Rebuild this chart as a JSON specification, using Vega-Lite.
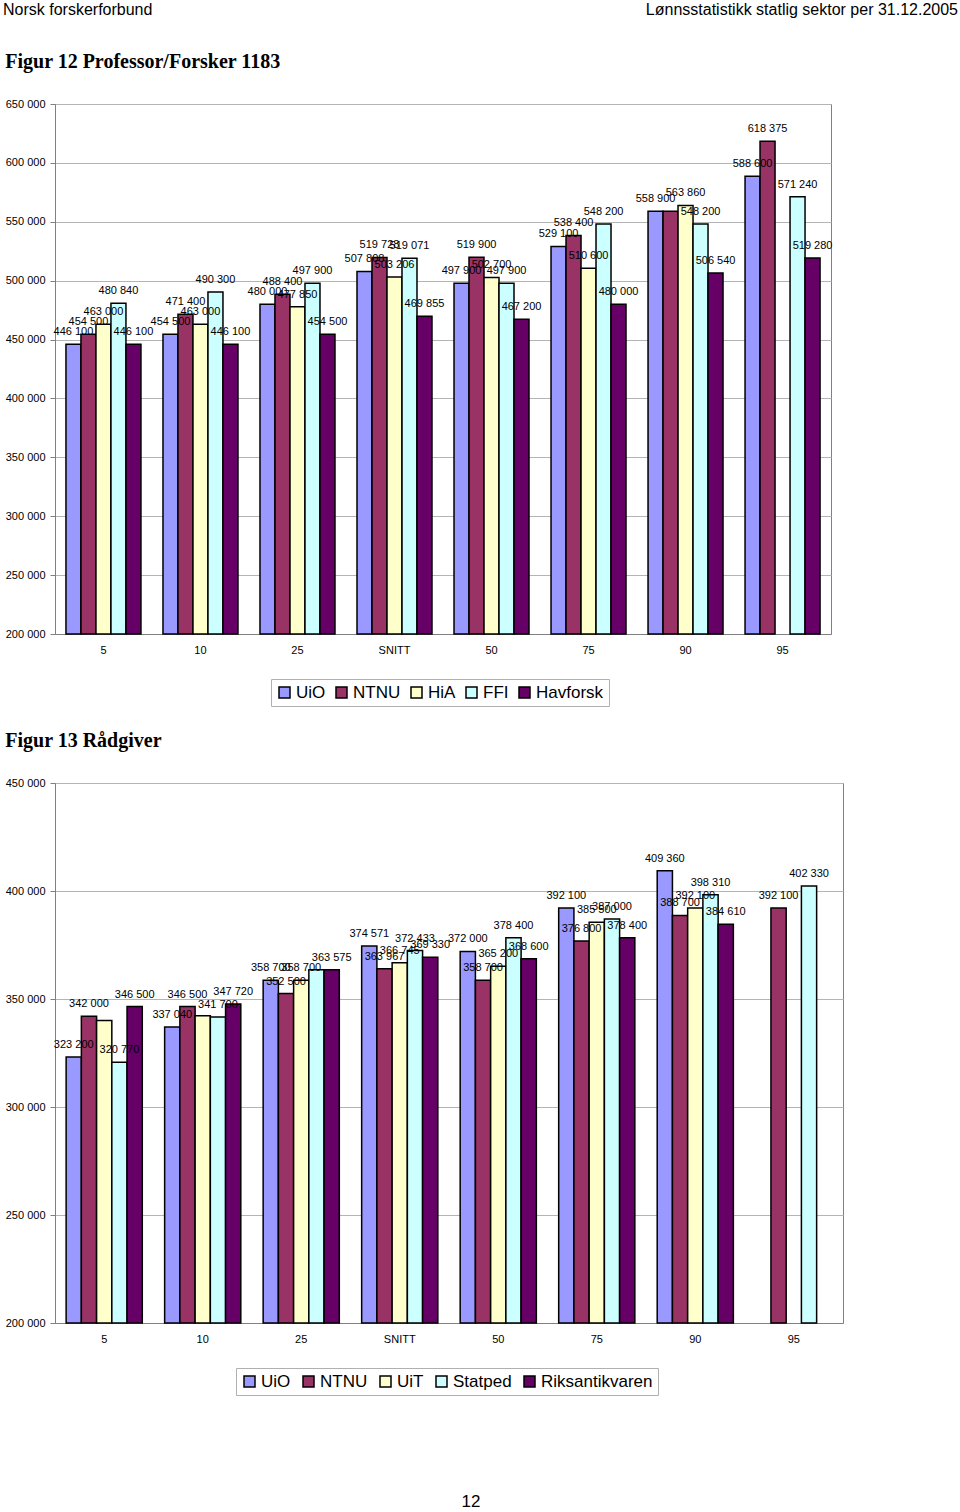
{
  "$schema": "https://vega.github.io/schema/vega-lite/v6.json",
  "background": "white",
  "padding": {"left": 3, "top": 0, "right": 2, "bottom": 0},
  "spacing": 23,
  "resolve": {"scale": {"color": "independent", "xOffset": "independent", "x": "independent", "y": "independent"}, "legend": {"color": "independent"}},
  "datasets": {
    "fig12": [
      {"g": "5", "s": "UiO", "v": 446100, "lab": "446 100"},
      {"g": "5", "s": "NTNU", "v": 454500, "lab": "454 500"},
      {"g": "5", "s": "HiA", "v": 463000, "lab": "463 000"},
      {"g": "5", "s": "FFI", "v": 480840, "lab": "480 840"},
      {"g": "5", "s": "Havforsk", "v": 446100, "lab": "446 100"},
      {"g": "10", "s": "UiO", "v": 454500, "lab": "454 500"},
      {"g": "10", "s": "NTNU", "v": 471400, "lab": "471 400"},
      {"g": "10", "s": "HiA", "v": 463000, "lab": "463 000"},
      {"g": "10", "s": "FFI", "v": 490300, "lab": "490 300"},
      {"g": "10", "s": "Havforsk", "v": 446100, "lab": "446 100"},
      {"g": "25", "s": "UiO", "v": 480000, "lab": "480 000"},
      {"g": "25", "s": "NTNU", "v": 488400, "lab": "488 400"},
      {"g": "25", "s": "HiA", "v": 477850, "lab": "477 850"},
      {"g": "25", "s": "FFI", "v": 497900, "lab": "497 900"},
      {"g": "25", "s": "Havforsk", "v": 454500, "lab": "454 500"},
      {"g": "SNITT", "s": "UiO", "v": 507808, "lab": "507 808"},
      {"g": "SNITT", "s": "NTNU", "v": 519728, "lab": "519 728"},
      {"g": "SNITT", "s": "HiA", "v": 503206, "lab": "503 206"},
      {"g": "SNITT", "s": "FFI", "v": 519071, "lab": "519 071"},
      {"g": "SNITT", "s": "Havforsk", "v": 469855, "lab": "469 855"},
      {"g": "50", "s": "UiO", "v": 497900, "lab": "497 900"},
      {"g": "50", "s": "NTNU", "v": 519900, "lab": "519 900"},
      {"g": "50", "s": "HiA", "v": 502700, "lab": "502 700"},
      {"g": "50", "s": "FFI", "v": 497900, "lab": "497 900"},
      {"g": "50", "s": "Havforsk", "v": 467200, "lab": "467 200"},
      {"g": "75", "s": "UiO", "v": 529100, "lab": "529 100"},
      {"g": "75", "s": "NTNU", "v": 538400, "lab": "538 400"},
      {"g": "75", "s": "HiA", "v": 510600, "lab": "510 600"},
      {"g": "75", "s": "FFI", "v": 548200, "lab": "548 200"},
      {"g": "75", "s": "Havforsk", "v": 480000, "lab": "480 000"},
      {"g": "90", "s": "UiO", "v": 558900, "lab": "558 900"},
      {"g": "90", "s": "NTNU", "v": 558900, "lab": null},
      {"g": "90", "s": "HiA", "v": 563860, "lab": "563 860"},
      {"g": "90", "s": "FFI", "v": 548200, "lab": "548 200"},
      {"g": "90", "s": "Havforsk", "v": 506540, "lab": "506 540"},
      {"g": "95", "s": "UiO", "v": 588600, "lab": "588 600"},
      {"g": "95", "s": "NTNU", "v": 618375, "lab": "618 375"},
      {"g": "95", "s": "FFI", "v": 571240, "lab": "571 240"},
      {"g": "95", "s": "Havforsk", "v": 519280, "lab": "519 280"}
    ],
    "fig13": [
      {"g": "5", "s": "UiO", "v": 323200, "lab": "323 200"},
      {"g": "5", "s": "NTNU", "v": 342000, "lab": "342 000"},
      {"g": "5", "s": "UiT", "v": 340000, "lab": null},
      {"g": "5", "s": "Statped", "v": 320770, "lab": "320 770"},
      {"g": "5", "s": "Riksantikvaren", "v": 346500, "lab": "346 500"},
      {"g": "10", "s": "UiO", "v": 337040, "lab": "337 040"},
      {"g": "10", "s": "NTNU", "v": 346500, "lab": "346 500"},
      {"g": "10", "s": "UiT", "v": 342300, "lab": null},
      {"g": "10", "s": "Statped", "v": 341700, "lab": "341 700"},
      {"g": "10", "s": "Riksantikvaren", "v": 347720, "lab": "347 720"},
      {"g": "25", "s": "UiO", "v": 358700, "lab": "358 700"},
      {"g": "25", "s": "NTNU", "v": 352500, "lab": "352 500"},
      {"g": "25", "s": "UiT", "v": 358700, "lab": "358 700"},
      {"g": "25", "s": "Statped", "v": 363575, "lab": null},
      {"g": "25", "s": "Riksantikvaren", "v": 363575, "lab": "363 575"},
      {"g": "SNITT", "s": "UiO", "v": 374571, "lab": "374 571"},
      {"g": "SNITT", "s": "NTNU", "v": 363967, "lab": "363 967"},
      {"g": "SNITT", "s": "UiT", "v": 366745, "lab": "366 745"},
      {"g": "SNITT", "s": "Statped", "v": 372433, "lab": "372 433"},
      {"g": "SNITT", "s": "Riksantikvaren", "v": 369330, "lab": "369 330"},
      {"g": "50", "s": "UiO", "v": 372000, "lab": "372 000"},
      {"g": "50", "s": "NTNU", "v": 358700, "lab": "358 700"},
      {"g": "50", "s": "UiT", "v": 365200, "lab": "365 200"},
      {"g": "50", "s": "Statped", "v": 378400, "lab": "378 400"},
      {"g": "50", "s": "Riksantikvaren", "v": 368600, "lab": "368 600"},
      {"g": "75", "s": "UiO", "v": 392100, "lab": "392 100"},
      {"g": "75", "s": "NTNU", "v": 376800, "lab": "376 800"},
      {"g": "75", "s": "UiT", "v": 385500, "lab": "385 500"},
      {"g": "75", "s": "Statped", "v": 387000, "lab": "387 000"},
      {"g": "75", "s": "Riksantikvaren", "v": 378400, "lab": "378 400"},
      {"g": "90", "s": "UiO", "v": 409360, "lab": "409 360"},
      {"g": "90", "s": "NTNU", "v": 388700, "lab": "388 700"},
      {"g": "90", "s": "UiT", "v": 392100, "lab": "392 100"},
      {"g": "90", "s": "Statped", "v": 398310, "lab": "398 310"},
      {"g": "90", "s": "Riksantikvaren", "v": 384610, "lab": "384 610"},
      {"g": "95", "s": "NTNU", "v": 392100, "lab": "392 100"},
      {"g": "95", "s": "Statped", "v": 402330, "lab": "402 330"}
    ]
  },
  "vconcat": [
    {
      "spacing": 31,
      "resolve": {"scale": {"color": "independent", "xOffset": "independent", "x": "independent", "y": "independent"}, "legend": {"color": "independent"}},
      "vconcat": [
        {
          "width": 903,
          "height": 20,
          "view": {"stroke": null},
          "data": {"values": [
            {"t": "Norsk forskerforbund", "side": "l"},
            {"t": "Lønnsstatistikk statlig sektor per 31.12.2005", "side": "r"}
          ]},
          "encoding": {
            "x": {"field": "side", "type": "nominal", "scale": {"type": "point", "domain": ["l", "r"], "range": [-52, 903], "padding": 0}, "axis": null},
            "text": {"field": "t", "type": "nominal"}
          },
          "layer": [
            {"transform": [{"filter": "datum.side === 'l'"}], "mark": {"type": "text", "align": "left", "baseline": "middle", "font": "Liberation Sans", "fontSize": 16, "color": "black"}},
            {"transform": [{"filter": "datum.side === 'r'"}], "mark": {"type": "text", "align": "right", "baseline": "middle", "font": "Liberation Sans", "fontSize": 16, "color": "black"}}
          ]
        },
        {
          "width": 776,
          "height": 530,
          "title": {"text": "Figur 12 Professor/Forsker 1183", "anchor": "start", "frame": "bounds", "font": "Liberation Serif", "fontSize": 20, "fontWeight": "bold", "offset": 26, "color": "black"},
          "data": {"name": "fig12"},
          "encoding": {
            "x": {"field": "g", "type": "nominal", "sort": ["5", "10", "25", "SNITT", "50", "75", "90", "95"], "scale": {"paddingInner": 0.227, "paddingOuter": 0.113}, "title": null,
              "axis": {"labelAngle": 0, "ticks": false, "labelPadding": 10, "labelFontSize": 11, "labelColor": "black", "domainColor": "#808080"}},
            "xOffset": {"field": "s", "type": "nominal", "sort": ["UiO", "NTNU", "HiA", "FFI", "Havforsk"], "scale": {"domain": ["UiO", "NTNU", "HiA", "FFI", "Havforsk"], "paddingInner": 0, "paddingOuter": 0}},
            "y": {"field": "v", "type": "quantitative", "scale": {"domain": [200000, 650000], "nice": false, "zero": false}, "title": null,
              "axis": {"values": [200000, 250000, 300000, 350000, 400000, 450000, 500000, 550000, 600000, 650000], "labelExpr": "replace(format(datum.value, ',d'), ',', ' ')", "labelFontSize": 11, "labelColor": "black", "tickSize": 5, "tickColor": "#808080", "domainColor": "#808080", "gridColor": "#b4b4b4", "labelPadding": 5}}
          },
          "layer": [
            {
              "mark": {"type": "bar", "stroke": "black", "strokeWidth": 1.5},
              "encoding": {
                "y2": {"datum": 200000},
                "color": {"field": "s", "type": "nominal", "sort": ["UiO", "NTNU", "HiA", "FFI", "Havforsk"],
                  "scale": {"domain": ["UiO", "NTNU", "HiA", "FFI", "Havforsk"], "range": ["#9999FF", "#993366", "#FFFFCC", "#CCFFFF", "#660066"]},
                  "legend": {"title": null, "orient": "none", "legendX": 216, "legendY": 575, "direction": "horizontal", "columns": 5, "symbolType": "square", "symbolSize": 121, "symbolStrokeColor": "black", "symbolStrokeWidth": 1.5, "symbolOpacity": 1, "labelFontSize": 17, "labelColor": "black", "labelOffset": 3, "columnPadding": 7, "padding": 5, "strokeColor": "#b0b0b0", "fillColor": "white"}}
              }
            },
            {
              "transform": [{"filter": "isValid(datum.lab)"}],
              "mark": {"type": "text", "baseline": "bottom", "dy": -7, "fontSize": 11, "color": "black"},
              "encoding": {"text": {"field": "lab", "type": "nominal"}}
            }
          ]
        }
      ]
    },
    {
      "spacing": 97,
      "resolve": {"scale": {"color": "independent", "xOffset": "independent", "x": "independent", "y": "independent"}, "legend": {"color": "independent"}},
      "vconcat": [
        {
          "width": 788,
          "height": 540,
          "title": {"text": "Figur 13 Rådgiver", "anchor": "start", "frame": "bounds", "font": "Liberation Serif", "fontSize": 20, "fontWeight": "bold", "offset": 26, "color": "black"},
          "data": {"name": "fig13"},
          "encoding": {
            "x": {"field": "g", "type": "nominal", "sort": ["5", "10", "25", "SNITT", "50", "75", "90", "95"], "scale": {"paddingInner": 0.227, "paddingOuter": 0.113}, "title": null,
              "axis": {"labelAngle": 0, "ticks": false, "labelPadding": 10, "labelFontSize": 11, "labelColor": "black", "domainColor": "#808080"}},
            "xOffset": {"field": "s", "type": "nominal", "sort": ["UiO", "NTNU", "UiT", "Statped", "Riksantikvaren"], "scale": {"domain": ["UiO", "NTNU", "UiT", "Statped", "Riksantikvaren"], "paddingInner": 0, "paddingOuter": 0}},
            "y": {"field": "v", "type": "quantitative", "scale": {"domain": [200000, 450000], "nice": false, "zero": false}, "title": null,
              "axis": {"values": [200000, 250000, 300000, 350000, 400000, 450000], "labelExpr": "replace(format(datum.value, ',d'), ',', ' ')", "labelFontSize": 11, "labelColor": "black", "tickSize": 5, "tickColor": "#808080", "domainColor": "#808080", "gridColor": "#b4b4b4", "labelPadding": 5}}
          },
          "layer": [
            {
              "mark": {"type": "bar", "stroke": "black", "strokeWidth": 1.5},
              "encoding": {
                "y2": {"datum": 200000},
                "color": {"field": "s", "type": "nominal", "sort": ["UiO", "NTNU", "UiT", "Statped", "Riksantikvaren"],
                  "scale": {"domain": ["UiO", "NTNU", "UiT", "Statped", "Riksantikvaren"], "range": ["#9999FF", "#993366", "#FFFFCC", "#CCFFFF", "#660066"]},
                  "legend": {"title": null, "orient": "none", "legendX": 181, "legendY": 585, "direction": "horizontal", "columns": 5, "symbolType": "square", "symbolSize": 121, "symbolStrokeColor": "black", "symbolStrokeWidth": 1.5, "symbolOpacity": 1, "labelFontSize": 17, "labelColor": "black", "labelOffset": 3, "columnPadding": 9, "padding": 5, "strokeColor": "#b0b0b0", "fillColor": "white"}}
              }
            },
            {
              "transform": [{"filter": "isValid(datum.lab)"}],
              "mark": {"type": "text", "baseline": "bottom", "dy": -7, "fontSize": 11, "color": "black"},
              "encoding": {"text": {"field": "lab", "type": "nominal"}}
            }
          ]
        },
        {
          "width": 832,
          "height": 14,
          "view": {"stroke": null},
          "data": {"values": [{"t": "12"}]},
          "mark": {"type": "text", "baseline": "middle", "font": "Liberation Sans", "fontSize": 17, "color": "black"},
          "encoding": {"text": {"field": "t", "type": "nominal"}}
        }
      ]
    }
  ],
  "config": {
    "font": "Liberation Sans",
    "view": {"stroke": "#808080"},
    "axis": {"gridColor": "#b4b4b4"}
  }
}
